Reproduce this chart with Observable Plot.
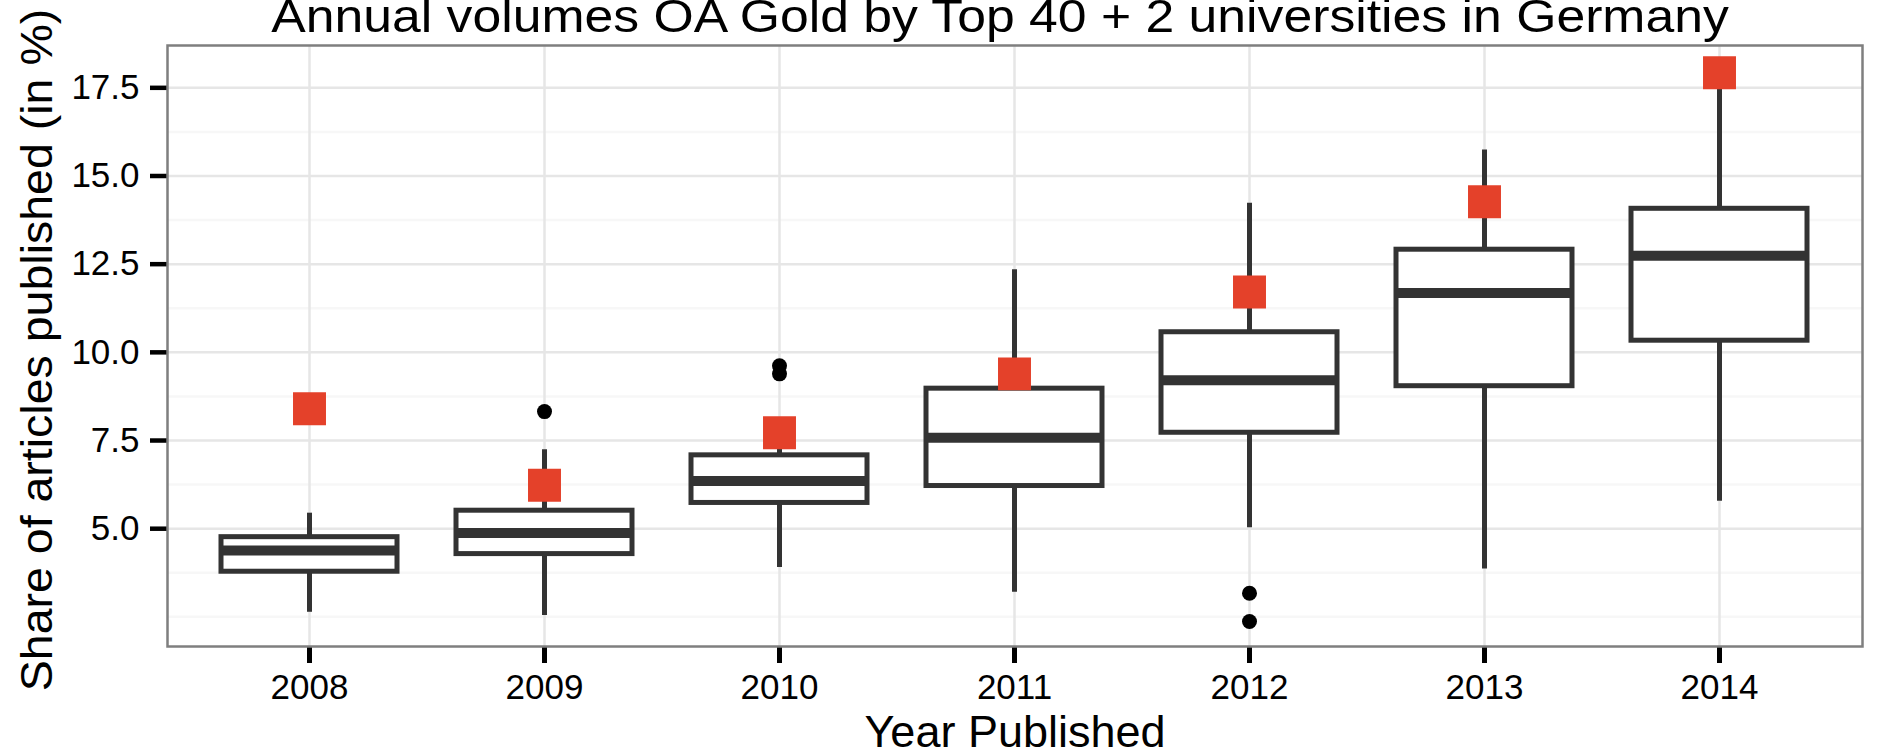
<!DOCTYPE html>
<html>
<head>
<meta charset="utf-8">
<script src="https://cdn.jsdelivr.net/npm/d3@7"></script>
<script src="https://cdn.jsdelivr.net/npm/@observablehq/plot@0.6"></script>
<style>
  html, body { margin: 0; padding: 0; background: white; overflow: hidden; }
  #wrap { position: relative; width: 1878px; height: 754px; font-family: "Liberation Sans", Arial, sans-serif; }
  #title { position: absolute; left: 1000px; top: -7px; white-space: nowrap; font-size: 46px; line-height: 1;
           color: black; transform: translateX(-50%) scaleX(1.124); }
  #ytitle { position: absolute; left: 36.7px; top: 350px; white-space: nowrap; font-size: 44px; line-height: 1;
            color: black; transform: translate(-50%, -50%) rotate(-90deg) scaleX(1.057); }
</style>
</head>
<body>
<div id="wrap">
  <div id="chart"></div>
  <div id="title">Annual volumes OA Gold by Top 40 + 2 universities in Germany</div>
  <div id="ytitle"></div>
</div>
<script>
// ---- data ----
const years       = ["2008", "2009", "2010", "2011", "2012", "2013", "2014"];
const whiskerLow  = [2.63, 2.54, 3.90, 3.20, 5.03, 3.86, 5.78];
const q1          = [3.78, 4.28, 5.73, 6.21, 7.72, 9.04, 10.33];
const median      = [4.38, 4.88, 6.35, 7.58, 9.21, 11.68, 12.74];
const q3          = [4.76, 5.51, 7.08, 8.97, 10.57, 12.91, 14.07];
const whiskerHigh = [5.44, 7.24, 7.60, 12.34, 14.23, 15.74, 17.90];
const highlight   = [8.40, 6.23, 7.72, 9.39, 11.71, 14.27, 17.93];
const outlierYears  = ["2009", "2010", "2010", "2012", "2012"];
const outlierValues = [8.32, 9.62, 9.39, 3.17, 2.37];
const yTicks      = [5, 7.5, 10, 12.5, 15, 17.5];
const yMinorTicks = [2.5, 3.75, 6.25, 8.75, 11.25, 13.75, 16.25];
const xTitle = "Year Published";
const yTitle = "Share of articles published (in %)";

document.getElementById("ytitle").textContent = yTitle;

const boxes = years.map((year, i) => ({
  year, lo: whiskerLow[i], q1: q1[i], med: median[i], q3: q3[i], hi: whiskerHigh[i], hl: highlight[i]
}));
const outliers = outlierYears.map((year, i) => ({year, value: outlierValues[i]}));

const dark = "#333333";

const chart = Plot.plot({
  width: 1878,
  height: 754,
  marginTop: 45,
  marginBottom: 108,
  marginLeft: 167,
  marginRight: 16,
  style: {fontFamily: "Liberation Sans, Arial, sans-serif", fontSize: "35px", color: "black", background: "white", overflow: "visible"},
  x: {type: "band", domain: years, paddingInner: 0.25, paddingOuter: 0.225},
  y: {domain: [1.66, 18.70]},
  marks: [
    // grid
    Plot.ruleY(yMinorTicks, {stroke: "#f7f7f7", strokeWidth: 2.5}),
    Plot.ruleY(yTicks, {stroke: "#e6e6e6", strokeWidth: 2.5}),
    Plot.ruleX(years, {x: d => d, stroke: "#e6e6e6", strokeWidth: 2.5}),
    // whiskers
    Plot.ruleX(boxes, {x: "year", y1: "lo", y2: "hi", stroke: dark, strokeWidth: 5}),
    // boxes
    Plot.barY(boxes, {x: "year", y1: "q1", y2: "q3", fill: "white", stroke: dark, strokeWidth: 5}),
    // medians
    Plot.tickY(boxes, {x: "year", y: "med", stroke: dark, strokeWidth: 10}),
    // outliers
    Plot.dot(outliers, {x: "year", y: "value", r: 7.5, fill: "black", stroke: "none"}),
    // highlighted values
    Plot.dot(boxes, {x: "year", y: "hl", symbol: "square", r: 18.6, fill: "#e4412a", stroke: "none"}),
    // axes
    Plot.axisY({ticks: yTicks, tickFormat: d3.format(".1f"), tickSize: 17, tickPadding: 11, fontSize: 35, stroke: "black", strokeWidth: 4.5, label: null}),
    Plot.axisX({tickSize: 17, tickPadding: 11, fontSize: 35, stroke: "black", strokeWidth: 5, label: null}),
    // x axis title
    Plot.text([xTitle], {text: d => d, frameAnchor: "bottom", textAnchor: "middle", lineAnchor: "middle", dy: 86, fontSize: 45, fill: "black"}),
    // panel border
    Plot.frame({stroke: "#7f7f7f", strokeWidth: 2.5})
  ]
});
document.getElementById("chart").appendChild(chart);
</script>
</body>
</html>
